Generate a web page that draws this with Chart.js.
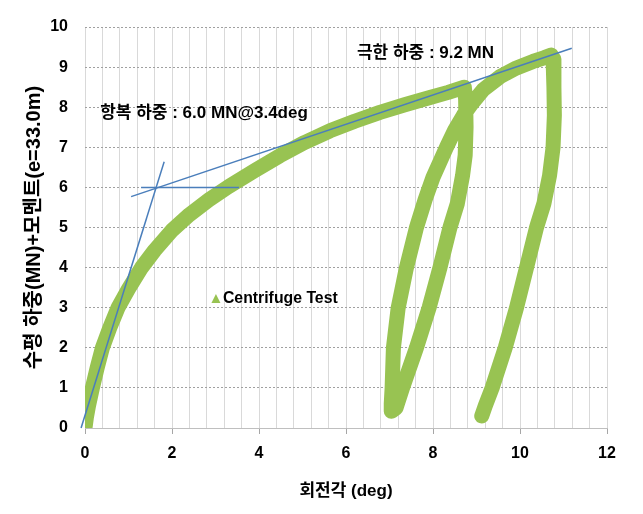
<!DOCTYPE html>
<html>
<head>
<meta charset="utf-8">
<script src="https://cdn.jsdelivr.net/npm/chart.js@4"></script>
<style>
  html, body { margin: 0; padding: 0; background: #fff; }
</style>
</head>
<body>
<canvas id="rotationChart" width="643" height="514"></canvas>
<script>
// [rotation (deg), load (MN)]
const loadingCurve = [
  [0, 0], [0.03, 0.25], [0.08, 0.55], [0.17, 1.0], [0.28, 1.5], [0.4, 2.0],
  [0.57, 2.5], [0.76, 3.0], [1.0, 3.47], [1.3, 4.0], [1.6, 4.43], [2.0, 4.93],
  [2.4, 5.32], [2.85, 5.69], [3.3, 6.02], [3.9, 6.42], [4.48, 6.79], [5.05, 7.12],
  [5.63, 7.41], [6.2, 7.65], [6.78, 7.87], [7.35, 8.06], [7.93, 8.24],
  [8.35, 8.37], [8.72, 8.5]
];
const unloading1 = [
  [8.75, 8.2], [8.76, 7.5], [8.74, 6.8], [8.68, 6.3], [8.56, 5.6], [8.39, 5.0],
  [8.16, 4.0], [7.91, 3.0], [7.62, 2.0], [7.3, 1.0], [7.15, 0.5], [7.05, 0.42]
];
const reloading = [
  [7.04, 0.6], [7.06, 1.0], [7.09, 2.0], [7.2, 3.0], [7.39, 4.0], [7.62, 5.0],
  [7.82, 5.7], [8.0, 6.25], [8.31, 7.0], [8.5, 7.43], [8.7, 7.8], [8.9, 8.1],
  [9.15, 8.43], [9.54, 8.76], [9.92, 8.98], [10.3, 9.14], [10.55, 9.23], [10.72, 9.3]
];
const unloading2 = [
  [10.76, 9.2], [10.78, 8.5], [10.79, 7.8], [10.76, 7.0], [10.68, 6.3],
  [10.55, 5.6], [10.38, 5.0], [10.15, 4.0], [9.92, 3.0], [9.66, 2.0],
  [9.36, 1.0], [9.2, 0.55], [9.12, 0.3]
];

// construction lines
const initialTangent = [[-0.09, 0], [1.82, 6.64]];
const postYieldTangent = [[1.06, 5.77], [11.19, 9.47]];
const yieldLevel = [[1.29, 6.0], [3.54, 6.0]];

const xTicks = [0, 2, 4, 6, 8, 10, 12];
const yTicks = [0, 1, 2, 3, 4, 5, 6, 7, 8, 9, 10];

const seriesLabel = "Centrifuge Test";
const yieldText = "항복 하중 : 6.0 MN@3.4deg";
const ultimateText = "극한 하중 : 9.2 MN";
const xTitle = "회전각 (deg)";
const yTitle = "수평 하중(MN)+모멘트(e=33.0m)";

const FONT = "'Liberation Sans', Arial, 'Noto Sans CJK KR', sans-serif";
const GREEN = "#98c352";
const BLUE = "#4a7ebb";

const toXY = (pts) => pts.map(([x, y]) => ({ x, y }));
const isMajor = (v) => xTicks.includes(Math.round(v * 10) / 10);

const chartText = {
  id: "chartText",
  afterDatasetsDraw(chart) {
    const { ctx, scales: { x, y } } = chart;
    ctx.save();
    ctx.textBaseline = "middle";
    ctx.fillStyle = "#000";
    ctx.font = "bold 17px " + FONT;
    ctx.fillText(ultimateText, x.getPixelForValue(6.25), y.getPixelForValue(9.35));
    ctx.fillText(yieldText, x.getPixelForValue(0.35), y.getPixelForValue(7.86));

    // legend inside the plot
    const lx = x.getPixelForValue(3.01);
    const ly = y.getPixelForValue(3.22);
    ctx.fillStyle = GREEN;
    ctx.beginPath();
    ctx.moveTo(lx, ly - 5);
    ctx.lineTo(lx + 4.5, ly + 4);
    ctx.lineTo(lx - 4.5, ly + 4);
    ctx.closePath();
    ctx.fill();
    ctx.fillStyle = "#000";
    ctx.translate(lx + 7, ly - 1);
    ctx.scale(0.93, 1);
    ctx.fillText(seriesLabel, 0, 0);
    ctx.restore();
  }
};

const drawChart = () => {
  const ctx = document.getElementById("rotationChart").getContext("2d");
  Chart.defaults.font.family = FONT;
  Chart.defaults.color = "#000";

  new Chart(ctx, {
    type: "scatter",
    data: {
      datasets: [
        {
          data: toXY(initialTangent),
          showLine: true, borderColor: BLUE, borderWidth: 1.5,
          pointRadius: 0, clip: false,
        },
        {
          data: toXY(postYieldTangent),
          showLine: true, borderColor: BLUE, borderWidth: 1.5, pointRadius: 0,
        },
        {
          data: toXY(yieldLevel),
          showLine: true, borderColor: BLUE, borderWidth: 1.5, pointRadius: 0,
        },
        {
          label: seriesLabel,
          data: toXY([...loadingCurve, ...unloading1, ...reloading, ...unloading2]),
          showLine: true,
          borderColor: GREEN,
          borderWidth: 15,
          borderJoinStyle: "round",
          borderCapStyle: "round",
          pointRadius: 0,
        },
      ],
    },
    options: {
      responsive: false,
      animation: false,
      devicePixelRatio: 1,
      layout: { padding: { left: 0, right: 36, top: 27, bottom: 0 } },
      plugins: { legend: { display: false }, tooltip: { enabled: false } },
      scales: {
        x: {
          min: 0, max: 12,
          ticks: {
            stepSize: 0.4, autoSkip: false, maxRotation: 0, padding: 10,
            font: { size: 16, weight: "bold" },
            callback: (v) => (isMajor(v) ? Math.round(v) : ""),
          },
          grid: {
            color: "#d9d9d9",
            tickLength: 6,
            tickColor: (c) => (c.tick && isMajor(c.tick.value) ? "#a6a6a6" : "rgba(0,0,0,0)"),
          },
          border: { color: "#bfbfbf" },
          title: {
            display: true, text: xTitle,
            font: { size: 17, weight: "bold" },
            padding: { top: 0, bottom: 12 },
          },
          afterFit: (s) => { s.height = 86; },
        },
        y: {
          min: 0, max: 10,
          afterBuildTicks: (s) => { s.ticks = yTicks.map((v) => ({ value: v })); },
          ticks: { padding: 17, font: { size: 16, weight: "bold" } },
          grid: { color: "#a0a0a0", drawTicks: false },
          border: { display: false, dash: [2, 2] },
          title: {
            display: true, text: yTitle,
            font: { size: 20, weight: "bold" },
            padding: { top: 22, bottom: 0 },
          },
          afterFit: (s) => { s.width = 85; },
        },
      },
    },
    plugins: [chartText],
  });
};

drawChart();
</script>
</body>
</html>
